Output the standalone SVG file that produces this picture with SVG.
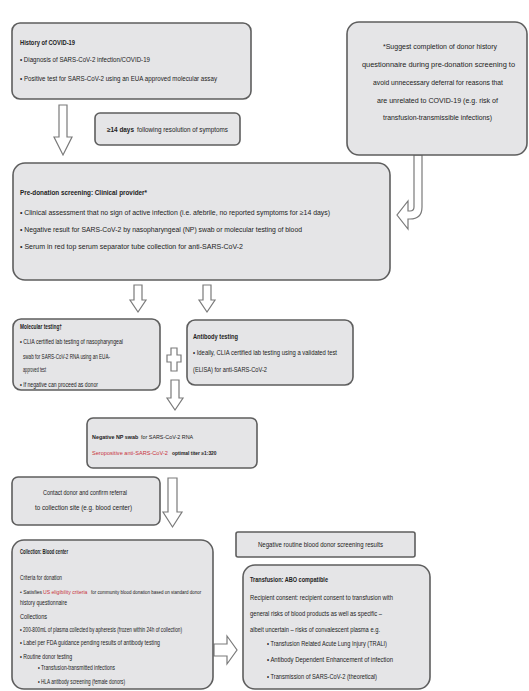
<svg xmlns="http://www.w3.org/2000/svg" width="529" height="691" viewBox="0 0 529 691">
<style>
.box{fill:#e5e5e7;stroke:#5e5e5e;stroke-width:1.6}
.arr{fill:#ffffff;stroke:#7a7a7a;stroke-width:1.2}
text{font-family:"Liberation Sans",Arial,sans-serif;font-size:7px;fill:#222222}
.b{font-weight:bold}
.red{fill:#c8323c}
.s{font-size:6.4px}
</style>
<rect width="529" height="691" fill="#ffffff"/>
<g id="connectors">
<path class="arr" d="M59,105 H67 V137 H72 L63,155 L54,137 H59 Z"/>
<path class="arr" d="M414,155 H422 V207 Q422,219 410,219 H408 V229 L397,215 L408,201 V211 H410 Q414,211 414,207 Z"/>
<path class="arr" d="M134,285 H142 V300 H146 L138,312 L130,300 H134 Z"/>
<path class="arr" d="M203,285 H211 V300 H215 L207,312 L199,300 H203 Z"/>
<path class="arr" d="M171,348 H177 V355 H181 V362 H177 V371 H171 V362 H167 V355 H171 Z"/>
<path class="arr" d="M171,380 H179 V398 H183 L175,410 L167,398 H171 Z"/>
<path class="arr" d="M168,478 H177 V512 H182 L172.5,527 L163,512 H168 Z"/>
<path class="arr" d="M214,644 H227 V636 L237,650 L227,664 V656 H214 Z"/>
</g>
<g id="history">
<rect class="box" x="12" y="23" width="239" height="76" rx="8"/>
<text class="b" x="20" y="45" textLength="55" lengthAdjust="spacingAndGlyphs">History of COVID-19</text>
<text x="20" y="62" textLength="130" lengthAdjust="spacingAndGlyphs">• Diagnosis of SARS-CoV-2 infection/COVID-19</text>
<text x="20" y="81" textLength="197" lengthAdjust="spacingAndGlyphs">• Positive test for SARS-CoV-2 using an EUA approved molecular assay</text>
</g>
<g id="days14">
<rect class="box" x="95" y="113" width="145" height="32" rx="5"/>
<text class="b" x="107" y="132" style="font-size:6.4px">≥14 days</text>
<text x="137" y="132" textLength="91" lengthAdjust="spacingAndGlyphs">following resolution of symptoms</text>
</g>
<g id="suggest">
<rect class="box" x="347" y="22" width="180" height="133" rx="12"/>
<text x="383" y="49" textLength="114" lengthAdjust="spacingAndGlyphs">*Suggest completion of donor history</text>
<text x="362" y="67" textLength="153" lengthAdjust="spacingAndGlyphs">questionnaire during pre-donation screening to</text>
<text x="373" y="85" textLength="130" lengthAdjust="spacingAndGlyphs">avoid unnecessary deferral for reasons that</text>
<text x="377" y="103" textLength="121" lengthAdjust="spacingAndGlyphs">are unrelated to COVID-19 (e.g. risk of</text>
<text x="383" y="120" textLength="109" lengthAdjust="spacingAndGlyphs">transfusion-transmissible infections)</text>
</g>
<g id="predonation">
<rect class="box" x="13" y="163" width="377" height="117" rx="12"/>
<text class="b" x="20" y="195" textLength="127" lengthAdjust="spacingAndGlyphs">Pre-donation screening: Clinical provider*</text>
<text x="20" y="215" textLength="310" lengthAdjust="spacingAndGlyphs">• Clinical assessment that no sign of active infection (i.e. afebrile, no reported symptoms for ≥14 days)</text>
<text x="20" y="232" textLength="282" lengthAdjust="spacingAndGlyphs">• Negative result for SARS-CoV-2 by nasopharyngeal (NP) swab or molecular testing of blood</text>
<text x="20" y="249" textLength="223" lengthAdjust="spacingAndGlyphs">• Serum in red top serum separator tube collection for anti-SARS-CoV-2</text>
</g>
<g id="molecular">
<rect class="box" x="13" y="319" width="147" height="71" rx="8"/>
<text class="b s" x="20" y="329" textLength="42" lengthAdjust="spacingAndGlyphs">Molecular testing†</text>
<text class="s" x="20" y="344" textLength="103" lengthAdjust="spacingAndGlyphs">• CLIA certified lab testing of nasopharyngeal</text>
<text class="s" x="23" y="359" textLength="87" lengthAdjust="spacingAndGlyphs">swab for SARS-CoV-2 RNA using an EUA-</text>
<text class="s" x="23" y="372" textLength="23" lengthAdjust="spacingAndGlyphs">approved test</text>
<text class="s" x="20" y="387" textLength="78" lengthAdjust="spacingAndGlyphs">• If negative can proceed as donor</text>
</g>
<g id="antibody">
<rect class="box" x="187" y="320" width="166" height="65" rx="8"/>
<text class="b s" x="193" y="339" textLength="45" lengthAdjust="spacingAndGlyphs">Antibody testing</text>
<text class="s" x="193" y="355" textLength="144" lengthAdjust="spacingAndGlyphs">• Ideally, CLIA certified lab testing using a validated test</text>
<text class="s" x="193" y="372" textLength="74" lengthAdjust="spacingAndGlyphs">(ELISA) for anti-SARS-CoV-2</text>
</g>
<g id="negativeNP">
<rect class="box" x="87" y="418" width="170" height="50" rx="6"/>
<text class="b" x="92" y="439" style="font-size:5.4px">Negative NP swab</text>
<text x="141" y="439" style="font-size:5.4px">for SARS-CoV-2 RNA</text>
<text class="red" x="92" y="455" style="font-size:5.6px">Seropositive anti-SARS-CoV-2</text>
<text class="b" x="172" y="455" style="font-size:4.9px">optimal titer ≥1:320</text>
</g>
<g id="contact">
<rect class="box" x="12" y="477" width="148" height="48" rx="6"/>
<text x="43" y="495" textLength="84" lengthAdjust="spacingAndGlyphs">Contact donor and confirm referral</text>
<text x="35" y="510" textLength="97" lengthAdjust="spacingAndGlyphs">to collection site (e.g. blood center)</text>
</g>
<g id="collection">
<rect class="box" x="12" y="540" width="201" height="149" rx="12"/>
<text class="b s" x="20" y="554" textLength="48" lengthAdjust="spacingAndGlyphs">Collection: Blood center</text>
<text class="s" x="20" y="580" textLength="42" lengthAdjust="spacingAndGlyphs">Criteria for donation</text>
<text x="20" y="594" style="font-size:5px">• Satisfies</text>
<text class="red" x="43" y="594" style="font-size:5.1px">US eligibility criteria</text>
<text x="91" y="594" style="font-size:4.5px">for community blood donation based on standard donor</text>
<text class="s" x="20" y="605" textLength="47" lengthAdjust="spacingAndGlyphs">history questionnaire</text>
<text class="s" x="20" y="619" textLength="27" lengthAdjust="spacingAndGlyphs">Collections</text>
<text class="s" x="20" y="632" textLength="162" lengthAdjust="spacingAndGlyphs">• 200-800mL of plasma collected by apheresis (frozen within 24h of collection)</text>
<text class="s" x="20" y="645" textLength="140" lengthAdjust="spacingAndGlyphs">• Label per FDA guidance pending results of antibody testing</text>
<text class="s" x="20" y="659" textLength="52" lengthAdjust="spacingAndGlyphs">• Routine donor testing</text>
<text class="s" x="38" y="670" textLength="77" lengthAdjust="spacingAndGlyphs">• Transfusion-transmitted infections</text>
<text class="s" x="38" y="684" textLength="87" lengthAdjust="spacingAndGlyphs">• HLA antibody screening (female donors)</text>
</g>
<g id="negativeRoutine">
<rect class="box" x="236" y="532" width="179" height="25" rx="2"/>
<text class="s" x="258" y="547" textLength="125" lengthAdjust="spacingAndGlyphs">Negative routine blood donor screening results</text>
</g>
<g id="transfusion">
<rect class="box" x="243" y="565" width="187" height="124" rx="12"/>
<text class="b s" x="250" y="582" textLength="78" lengthAdjust="spacingAndGlyphs">Transfusion: ABO compatible</text>
<text class="s" x="250" y="600" textLength="143" lengthAdjust="spacingAndGlyphs">Recipient consent: recipient consent to transfusion with</text>
<text class="s" x="250" y="616" textLength="132" lengthAdjust="spacingAndGlyphs">general risks of blood products as well as specific –</text>
<text class="s" x="250" y="632" textLength="130" lengthAdjust="spacingAndGlyphs">albeit uncertain – risks of convalescent plasma e.g.</text>
<text class="s" x="267" y="646" textLength="120" lengthAdjust="spacingAndGlyphs">• Transfusion Related Acute Lung Injury (TRALI)</text>
<text class="s" x="267" y="662" textLength="126" lengthAdjust="spacingAndGlyphs">• Antibody Dependent Enhancement of infection</text>
<text class="s" x="267" y="679" textLength="110" lengthAdjust="spacingAndGlyphs">• Transmission of SARS-CoV-2 (theoretical)</text>
</g>
</svg>
